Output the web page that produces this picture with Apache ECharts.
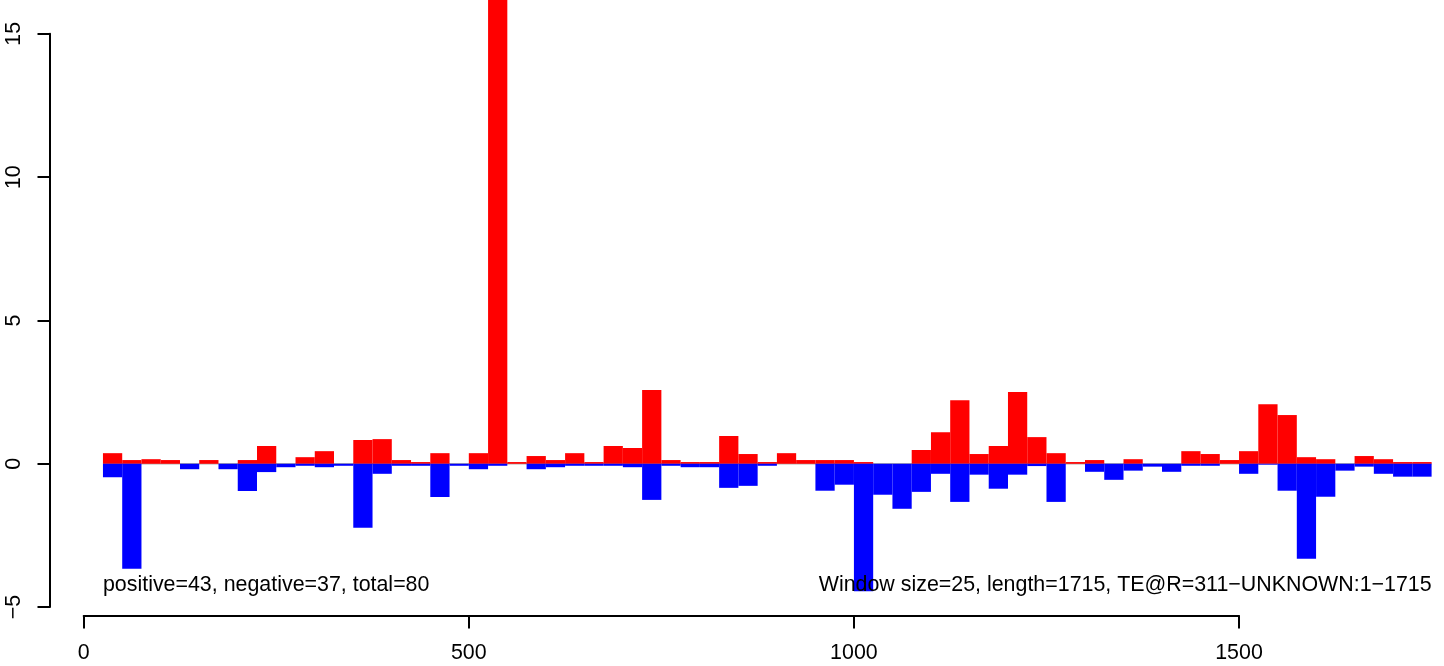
<!DOCTYPE html>
<html>
<head>
<meta charset="utf-8">
<script src="https://cdn.jsdelivr.net/npm/echarts@6/dist/echarts.min.js"></script>
<style>
html,body{margin:0;padding:0;background:#fff;}
#c{width:1444px;height:666px;}
</style>
</head>
<body>
<div id="c"></div>
<script>
// Window start positions (window size 25)
var windowStart = [25,50,75,100,125,150,175,200,225,250,275,300,325,350,375,400,425,450,475,500,
  525,550,575,600,625,650,675,700,725,750,775,800,825,850,875,900,925,950,975,1000,
  1025,1050,1075,1100,1125,1150,1175,1200,1225,1250,1275,1300,1325,1350,1375,1400,1425,1450,1475,1500,
  1525,1550,1575,1600,1625,1650,1675,1700,1725];
var windowSize = 25;
var positiveValues = [0.37,0.13,0.16,0.13,0,0.13,0,0.13,0.62,0,
  0.23,0.44,0,0.83,0.86,0.13,0.06,0.37,0,0.37,
  16.55,0.06,0.27,0.13,0.37,0.06,0.62,0.55,2.57,0.13,
  0.06,0.06,0.97,0.34,0.06,0.37,0.13,0.13,0.13,0.06,
  0,0,0.48,1.10,2.22,0.34,0.62,2.50,0.93,0.37,
  0.06,0.13,0,0.16,0,0,0.44,0.34,0.13,0.44,
  2.08,1.70,0.23,0.16,0,0.27,0.16,0.06,0.06];
var negativeValues = [-0.47,-3.66,0,0,-0.19,0,-0.19,-0.95,-0.29,-0.12,
  -0.07,-0.12,-0.07,-2.23,-0.35,-0.07,-0.07,-1.16,-0.07,-0.19,
  -0.07,0,-0.19,-0.12,-0.07,-0.07,-0.07,-0.12,-1.26,-0.07,
  -0.12,-0.12,-0.84,-0.77,-0.07,0,0,-0.94,-0.73,-4.45,
  -1.08,-1.57,-0.98,-0.35,-1.33,-0.38,-0.87,-0.38,-0.08,-1.33,
  0,-0.28,-0.56,-0.24,-0.10,-0.28,-0.07,-0.07,0,-0.35,
  -0.03,-0.94,-3.31,-1.15,-0.24,-0.10,-0.35,-0.45,-0.45];
var xTicks = [0, 500, 1000, 1500];
var yTicks = [-5, 0, 5, 10, 15];
var leftText = 'positive=43, negative=37, total=80';
var rightText = 'Window size=25, length=1715, TE@R=311\u2212UNKNOWN:1\u22121715';
var textY = -4.24;
var seqStart = 25, seqEnd = 1750;

var FONT = '"Liberation Sans", Arial, Helvetica, sans-serif';
var FS = 21.4;

function toRows(vals) {
  return windowStart.map(function (s, i) { return [s, s + windowSize, vals[i]]; });
}
function barRender(color) {
  return function (params, api) {
    var x0 = api.value(0), x1 = api.value(1), v = api.value(2);
    if (v === 0) return null;
    var p0 = api.coord([x0, 0]);
    var p1 = api.coord([x1, v]);
    return {
      type: 'rect',
      shape: { x: p0[0], y: Math.min(p0[1], p1[1]), width: p1[0] - p0[0], height: Math.abs(p1[1] - p0[1]) },
      style: { fill: color }
    };
  };
}

var labelBase = { show: true, distance: 0, color: '#000000', opacity: 1, fontSize: FS, fontFamily: FONT, textBorderWidth: 0 };

var chart = echarts.init(document.getElementById('c'), null, { renderer: 'canvas' });
chart.setOption({
  animation: false,
  backgroundColor: '#ffffff',
  textStyle: { fontFamily: FONT, color: '#000' },
  grid: [
    { left: 50, top: 33.8, width: 1381.6, height: 573.3, containLabel: false },
    { left: 83.7, top: 600, width: 1155.3, height: 15.5, containLabel: false }
  ],
  xAxis: [
    { gridIndex: 0, type: 'value', min: -43.75, max: 1750, show: false },
    {
      gridIndex: 1, type: 'value', min: xTicks[0], max: xTicks[xTicks.length - 1], interval: 500,
      axisLine: { show: true, onZero: false, lineStyle: { color: '#000', width: 2 } },
      axisTick: { show: true, inside: false, length: 13, lineStyle: { color: '#000', width: 2 } },
      axisLabel: {
        show: true, margin: 27, color: '#000', fontSize: FS, fontFamily: FONT,
        formatter: function (v) { return String(v); }
      },
      splitLine: { show: false }
    }
  ],
  yAxis: [
    {
      gridIndex: 0, type: 'value', min: yTicks[0], max: yTicks[yTicks.length - 1], interval: 5,
      axisLine: { show: true, onZero: false, lineStyle: { color: '#000', width: 2 } },
      axisTick: { show: true, inside: false, length: 12.5, lineStyle: { color: '#000', width: 2 } },
      axisLabel: {
        show: true, rotate: 90, margin: 25, color: '#000', fontSize: FS, fontFamily: FONT,
        formatter: function (v) { return String(v).replace('-', '\u2212'); }
      },
      splitLine: { show: false }
    },
    { gridIndex: 1, type: 'value', show: false }
  ],
  series: [
    {
      type: 'line', xAxisIndex: 0, yAxisIndex: 0, z: 1,
      data: [[seqStart, 0], [seqEnd, 0]], symbol: 'none', silent: true,
      lineStyle: { color: '#b0b0b0', width: 1.5 }
    },
    {
      type: 'custom', xAxisIndex: 0, yAxisIndex: 0, z: 2, clip: false,
      renderItem: barRender('#ff0000'), data: toRows(positiveValues)
    },
    {
      type: 'custom', xAxisIndex: 0, yAxisIndex: 0, z: 3, clip: false,
      renderItem: barRender('#0000ff'), data: toRows(negativeValues)
    },
    {
      type: 'scatter', xAxisIndex: 0, yAxisIndex: 0, z: 5, symbolSize: 0, silent: true,
      itemStyle: { opacity: 1, color: '#000' },
      data: [
        { value: [seqStart, textY], label: Object.assign({}, labelBase, { position: 'right', align: 'left', formatter: leftText }) },
        { value: [seqEnd, textY], label: Object.assign({}, labelBase, { position: 'left', align: 'right', formatter: rightText }) }
      ],
      label: labelBase
    }
  ]
});
</script>
</body>
</html>
